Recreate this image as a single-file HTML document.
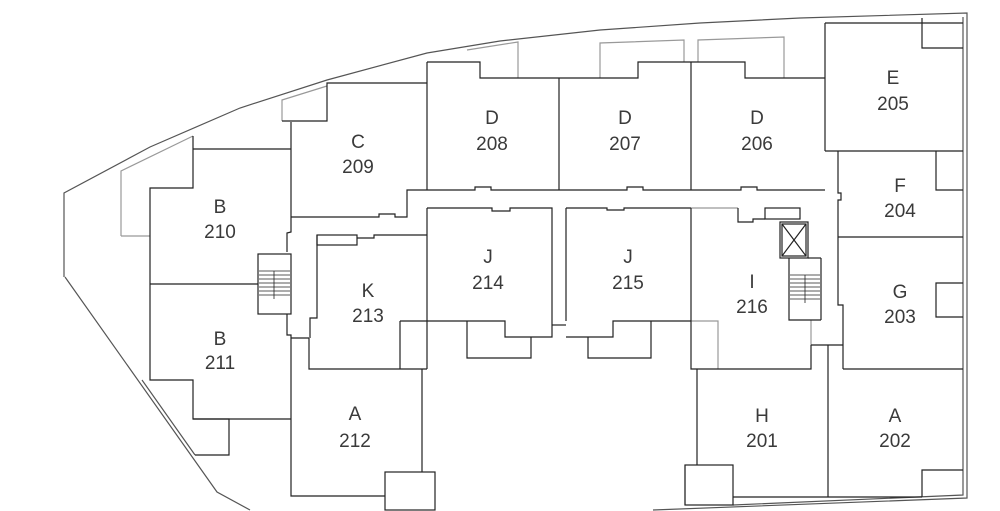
<!DOCTYPE html>
<html><head><style>
html,body{margin:0;padding:0;background:#fff;}
svg{display:block;}
text{font-family:"Liberation Sans",sans-serif;font-size:19px;fill:#3a3a3a;text-anchor:middle;font-weight:normal;}
</style></head><body>
<svg width="1000" height="511" viewBox="0 0 1000 511" xmlns="http://www.w3.org/2000/svg">
<g fill="none" stroke-width="1.2">
<!-- outer boundary -->
<g stroke="#555">
<polyline points="64,277 64,193 150,147 240,108 327,80 427,53 500,41 600,30 700,23 800,18 967,13 967,498 653,510"/>
<polyline points="65,277 217,492 250,510"/>
<polyline points="963,17 963,495 733,505"/>
<polyline points="142,380 195,455"/>
</g>
<!-- gray balconies -->
<g stroke="#999">
<polyline points="121,236 121,171 193,136"/>
<polyline points="282,121 282,100 327,86"/>
<polyline points="518,78 518,42 467,50"/>
<polyline points="600,78 600,43 684,40 684,62"/>
<polyline points="698,62 698,40 784,37 784,78"/>
<polyline points="691,208 738,208"/>
<polyline points="691,321 718,321 718,369"/>
<polyline points="811,320 811,345"/>
<polyline points="685,465 685,505"/>
<polyline points="121,236 150,236"/>
</g>
<g stroke="#222">
<!-- B210 / B211 -->
<polyline points="193,136 193,188 150,188 150,380 193,380 193,419 291,419"/>
<polyline points="193,149 291,149"/>
<polyline points="150,284 258,284"/>
<polyline points="193,419 229,419 229,455 195,455"/>
<!-- C209 -->
<polyline points="291,122 291,232 287,233 287,252"/>
<polyline points="282,121 327,121 327,83 427,83"/>
<polyline points="291,217 379,217 379,214 395,214 395,217 407,217 407,190 427,190"/>
<!-- D rooms -->
<polyline points="427,62 427,190"/>
<polyline points="427,62 480,62 480,78 638,78 638,62 745,62 745,78 825,78"/>
<polyline points="559,78 559,190"/>
<polyline points="691,62 691,190"/>
<polyline points="427,190 475,190 475,187 491,187 491,190 627,190 627,187 643,187 643,190 741,190 741,187 757,187 757,190 825,190"/>
<!-- E, F -->
<polyline points="825,23 825,151"/>
<polyline points="825,23 963,23"/>
<polyline points="922,18 922,48 963,48"/>
<polyline points="825,151 963,151"/>
<polyline points="838,151 838,193 841,193 841,200 838,200 838,305 843,305 843,369"/>
<polyline points="936,151 936,190 963,190"/>
<polyline points="838,237 963,237"/>
<!-- G -->
<polyline points="963,283 936,283 936,317 963,317"/>
<polyline points="843,369 963,369"/>
<!-- A202 -->
<polyline points="811,345 843,345"/>
<polyline points="828,345 828,497"/>
<polyline points="922,497 922,470 963,470"/>
<polyline points="733,497 922,497"/>
<!-- H201 -->
<polyline points="697,369 697,465"/>
<rect x="685" y="465" width="48" height="40"/>
<!-- I216 -->
<polyline points="691,208 691,369 811,369 811,345"/>
<polyline points="738,208 738,222 753,222 753,219 765,219"/>
<rect x="765" y="208" width="35" height="11"/>
<rect x="780" y="222" width="28" height="36"/>
<rect x="782" y="224" width="24" height="32"/>
<line x1="782" y1="224" x2="806" y2="256"/><line x1="806" y1="224" x2="782" y2="256"/>
<polyline points="808,258 821,258"/>
<polyline points="789,258 789,320 821,320"/>
<polyline points="821,258 821,320"/>
<!-- J215 -->
<polyline points="566,208 566,321"/>
<polyline points="566,208 607,208 607,210 624,210 624,208 691,208"/>
<polyline points="566,337 613,337 613,321 691,321"/>
<polyline points="588,337 588,358 651,358 651,321"/>
<polyline points="552,325 566,325"/>
<!-- J214 -->
<polyline points="427,208 492,208 492,211 510,211 510,208 552,208 552,337 505,337 505,321 400,321"/>
<polyline points="467,321 467,358 531,358 531,337"/>
<polyline points="427,208 427,369"/>
<!-- K213 -->
<polyline points="309,338 309,369 427,369"/>
<polyline points="400,321 400,369"/>
<polyline points="291,338 309,338"/>
<polyline points="317,235 317,318 310,318 310,338"/>
<rect x="317" y="235" width="40" height="10"/>
<polyline points="357,238 374,238 374,235 427,235"/>
<!-- corridor / stair left -->
<rect x="258" y="254" width="33" height="60"/>
<polyline points="287,314 287,335 291,335 291,496 385,496"/>
<polyline points="422,369 422,472"/>
<rect x="385" y="472" width="50" height="38"/>
</g>
<!-- stair treads -->
<g stroke="#222" stroke-width="0.8">
<line x1="259" y1="271" x2="290" y2="271"/><line x1="259" y1="275" x2="290" y2="275"/>
<line x1="259" y1="279" x2="290" y2="279"/><line x1="259" y1="283" x2="290" y2="283"/>
<line x1="259" y1="287" x2="290" y2="287"/><line x1="259" y1="291" x2="290" y2="291"/>
<line x1="259" y1="295" x2="290" y2="295"/><line x1="274" y1="271" x2="274" y2="299"/>
<line x1="790" y1="275" x2="820" y2="275"/><line x1="790" y1="279" x2="820" y2="279"/>
<line x1="790" y1="283" x2="820" y2="283"/><line x1="790" y1="287" x2="820" y2="287"/>
<line x1="790" y1="291" x2="820" y2="291"/><line x1="790" y1="295" x2="820" y2="295"/>
<line x1="790" y1="299" x2="820" y2="299"/><line x1="805" y1="275" x2="805" y2="303"/>
</g>
</g>
<g>
<text x="358" y="148">C</text><text x="358" y="173">209</text>
<text x="492" y="124">D</text><text x="492" y="150">208</text>
<text x="625" y="124">D</text><text x="625" y="150">207</text>
<text x="757" y="124">D</text><text x="757" y="150">206</text>
<text x="893" y="84">E</text><text x="893" y="110">205</text>
<text x="900" y="192">F</text><text x="900" y="217">204</text>
<text x="220" y="213">B</text><text x="220" y="238">210</text>
<text x="488" y="263">J</text><text x="488" y="289">214</text>
<text x="628" y="263">J</text><text x="628" y="289">215</text>
<text x="752" y="288">I</text><text x="752" y="313">216</text>
<text x="368" y="297">K</text><text x="368" y="322">213</text>
<text x="900" y="298">G</text><text x="900" y="323">203</text>
<text x="220" y="345">B</text><text x="220" y="369">211</text>
<text x="355" y="420">A</text><text x="355" y="447">212</text>
<text x="762" y="422">H</text><text x="762" y="447">201</text>
<text x="895" y="422">A</text><text x="895" y="447">202</text>
</g>
</svg>
</body></html>
